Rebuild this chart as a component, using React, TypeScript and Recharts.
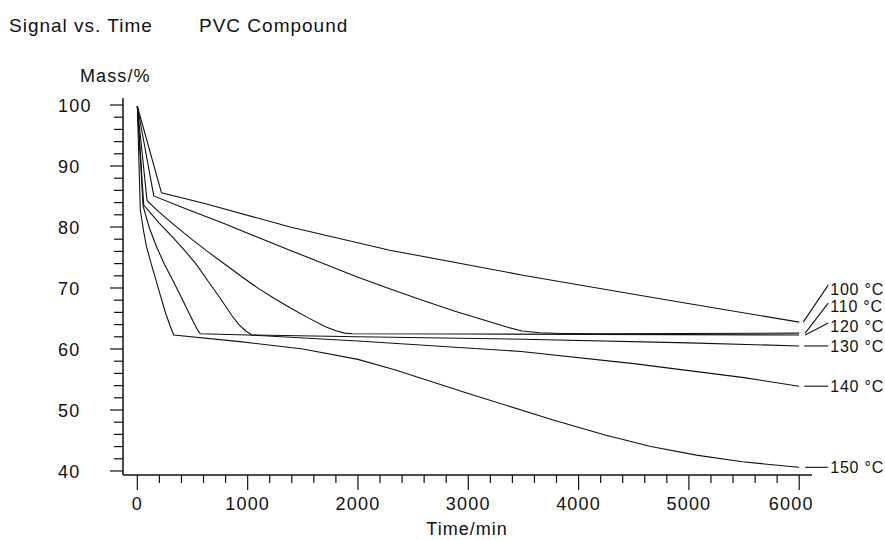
import React from 'react';
import { LineChart, Line, XAxis, YAxis, LabelList } from 'recharts';

// ---- data (Time/min, Mass/%) ----
const seriesNames = ['100 °C', '110 °C', '120 °C', '130 °C', '140 °C', '150 °C'];

const time100 = [0, 219, 602, 1385, 2288, 3494, 4750, 6000];
const mass100 = [99.8, 85.6, 83.9, 80.0, 76.2, 72.1, 68.2, 64.4];

const time110 = [0, 149, 450, 780, 1080, 1382, 1680, 1982, 2280, 2584, 2880, 3186, 3350, 3487, 3650, 3850, 4200, 6000];
const mass110 = [99.8, 85.1, 82.9, 80.6, 78.4, 76.2, 74.05, 71.9, 69.9, 68.0, 66.2, 64.5, 63.6, 62.95, 62.65, 62.55, 62.5, 62.6];

const time120 = [0, 88, 200, 350, 500, 650, 800, 950, 1100, 1250, 1400, 1550, 1700, 1800, 1880, 1950, 3000, 6000];
const mass120 = [99.8, 84.3, 82.4, 80.1, 77.9, 75.8, 73.8, 71.8, 69.9, 68.2, 66.6, 65.1, 63.7, 63.0, 62.6, 62.5, 62.45, 62.3];

const time130 = [0, 58, 200, 326, 450, 533, 650, 741, 800, 860, 920, 980, 1039, 2000, 3500, 5000, 6000];
const mass130 = [99.8, 83.6, 80.6, 78.2, 75.7, 73.9, 70.9, 68.6, 67.0, 65.4, 64.0, 63.0, 62.3, 62.0, 61.6, 61.0, 60.5];

const time140 = [0, 52, 110, 173, 245, 320, 395, 468, 520, 550, 570, 1000, 2000, 3480, 4500, 5500, 6000];
const mass140 = [99.8, 83.4, 79.8, 76.8, 73.9, 71.3, 68.6, 65.9, 64.0, 63.0, 62.5, 62.3, 61.3, 59.6, 57.6, 55.3, 53.9];

const time150 = [0, 27, 55, 83, 125, 169, 212, 256, 295, 330, 930, 1500, 2000, 2333, 3000, 3762, 4240, 4655, 5068, 5485, 5945, 6000];
const mass150 = [99.8, 82.8, 79.5, 76.8, 74.0, 71.3, 68.6, 65.9, 63.9, 62.3, 61.2, 60.0, 58.3, 56.6, 52.7, 48.4, 45.9, 44.0, 42.6, 41.5, 40.7, 40.6];

const xMajorTicks = [0, 1000, 2000, 3000, 4000, 5000, 6000];
const yMajorTicks = [40, 50, 60, 70, 80, 90, 100];
const xMinorStep = 200;
const yMinorStep = 2;

// ---- styling ----
const FONT = '"Liberation Sans", Arial, Helvetica, sans-serif';
const INK = '#111';

// label leader geometry per series (relative to last point): [startDx, endDy, textDy]
const labelGeom: [number, number, number][] = [
  [4, -37, -27],
  [6, -30, -21],
  [6, -12, -3],
  [5, 0, 5.7],
  [5, 0, 5.7],
  [6, 0, 5.7],
];

const buildTicks = (majors: number[], step: number) => {
  const out: number[] = [];
  const lo = majors[0];
  const hi = majors[majors.length - 1];
  for (let v = lo; v <= hi + 1e-9; v += step) out.push(Math.round(v * 1000) / 1000);
  return out;
};
const xTicks = buildTicks(xMajorTicks, xMinorStep);
const yTicks = buildTicks(yMajorTicks, yMinorStep);

const allSeries = [
  [time100, mass100],
  [time110, mass110],
  [time120, mass120],
  [time130, mass130],
  [time140, mass140],
  [time150, mass150],
].map(([ts, vs], i) => ({
  name: seriesNames[i],
  data: ts.map((t, j) => ({ t, v: vs[j] })),
}));

const XTick = (props: any) => {
  const { x, y, payload } = props;
  const v = payload.value;
  const major = xMajorTicks.includes(v);
  const len = major ? 15 : 8;
  const last = v === xMajorTicks[xMajorTicks.length - 1];
  return (
    <g>
      <line x1={x} y1={y} x2={x} y2={y + len} stroke={INK} strokeWidth={1.2} />
      {major && (
        <text
          x={x + (last ? -8 : 0)}
          y={y + 35}
          textAnchor="middle"
          fontFamily={FONT}
          fontSize={18}
          letterSpacing={1.2}
          fill={INK}
        >
          {v}
        </text>
      )}
    </g>
  );
};

const YTick = (props: any) => {
  const { x, y, payload } = props;
  const v = payload.value;
  const major = yMajorTicks.includes(v);
  const len = major ? 13 : 9;
  return (
    <g>
      <line x1={x - len} y1={y} x2={x} y2={y} stroke={INK} strokeWidth={1.2} />
      {major && (
        <text
          x={x - 65}
          y={y + 7}
          textAnchor="start"
          fontFamily={FONT}
          fontSize={18}
          letterSpacing={1.2}
          fill={INK}
        >
          {v}
        </text>
      )}
    </g>
  );
};

const makeEndLabel = (i: number, n: number) => (p: any) => {
  if (p.index !== n - 1) return null;
  const x = Number(p.x);
  const y = Number(p.y);
  const [sdx, edy, tdy] = labelGeom[i];
  return (
    <g>
      <line x1={x + sdx} y1={y} x2={x + 29} y2={y + edy} stroke={INK} strokeWidth={1.1} />
      <text
        x={x + 31}
        y={y + tdy}
        fontFamily={FONT}
        fontSize={16}
        letterSpacing={0.8}
        fill={INK}
      >
        {seriesNames[i]}
      </text>
    </g>
  );
};

export default function App() {
  return (
    <div style={{ position: 'absolute', left: 0, top: 0, width: 885, height: 540, background: '#fff' }}>
      <LineChart
        width={885}
        height={540}
        margin={{ top: 98, right: 73, bottom: 35, left: 63 }}
      >
        <XAxis
          type="number"
          dataKey="t"
          domain={[-130, 6116]}
          ticks={xTicks}
          interval={0}
          height={30}
          tickSize={0}
          tickMargin={0}
          tickLine={false}
          axisLine={{ stroke: INK, strokeWidth: 1.5 }}
          tick={<XTick />}
        />
        <YAxis
          type="number"
          domain={[39.34, 101.15]}
          ticks={yTicks}
          interval={0}
          width={60}
          tickSize={0}
          tickMargin={0}
          tickLine={false}
          axisLine={{ stroke: INK, strokeWidth: 1.5 }}
          tick={<YTick />}
        />
        {allSeries.map((s, i) => (
          <Line
            key={s.name}
            data={s.data}
            dataKey="v"
            name={s.name}
            type="linear"
            stroke={INK}
            strokeWidth={1.1}
            dot={false}
            activeDot={false}
            isAnimationActive={false}
          >
            <LabelList dataKey="v" content={makeEndLabel(i, s.data.length)} />
          </Line>
        ))}
      </LineChart>
      <svg
        width={885}
        height={540}
        style={{ position: 'absolute', left: 0, top: 0, pointerEvents: 'none' }}
      >
        <g fontFamily={FONT} fill={INK}>
          <text x={9} y={32} fontSize={19} letterSpacing={1}>Signal vs. Time</text>
          <text x={199} y={32} fontSize={19} letterSpacing={1}>PVC Compound</text>
          <text x={80} y={82} fontSize={18} letterSpacing={1.1}>Mass/%</text>
          <text x={467} y={535} fontSize={18} letterSpacing={1} textAnchor="middle">Time/min</text>
        </g>
      </svg>
    </div>
  );
}
